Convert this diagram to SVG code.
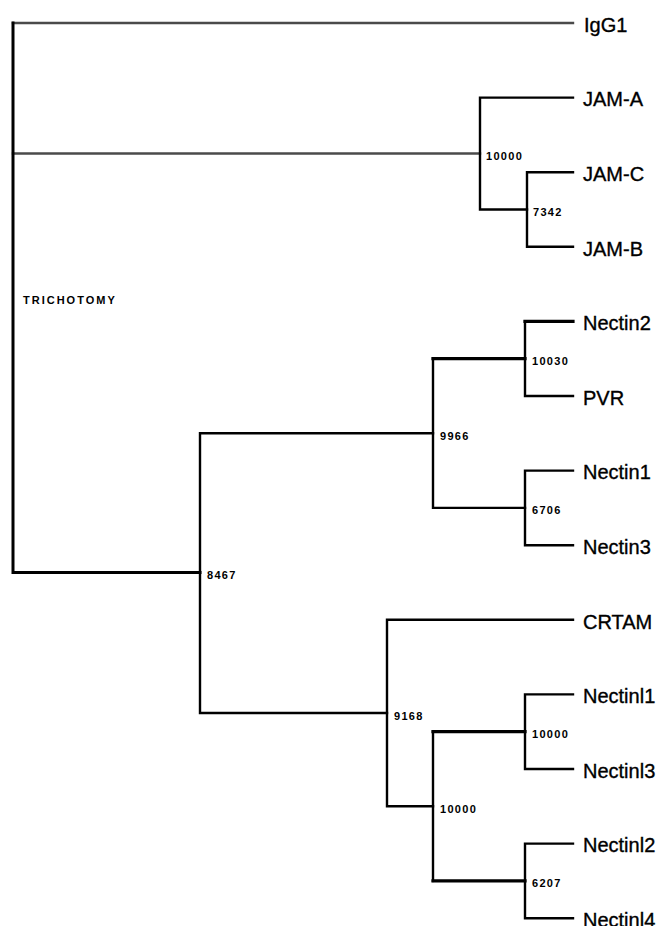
<svg xmlns="http://www.w3.org/2000/svg" width="664" height="926" viewBox="0 0 664 926">
<style>
.bg{fill:#ffffff}
.br{fill:none;stroke:#000;stroke-width:2.4;stroke-linecap:square;stroke-linejoin:miter}
.thk{stroke-width:3.2}
.gry{fill:none;stroke:#4a4a4a;stroke-width:2.4;stroke-linecap:square}
.leaf{font-family:"Liberation Sans",Arial,sans-serif;font-size:20px;fill:#000;stroke:#000;stroke-width:0.35}
.bs{font-family:"Liberation Sans",Arial,sans-serif;font-size:11px;font-weight:bold;letter-spacing:1.3px;fill:#000}
.tri{font-family:"Liberation Sans",Arial,sans-serif;font-size:11px;font-weight:bold;letter-spacing:2px;fill:#000}
</style>
<rect class="bg" x="0" y="0" width="664" height="926"/>
<g id="connectors">
  <path class="gry" d="M13,23 H573"/>
  <path class="gry" d="M13,153.5 H480"/>
  <path class="br" style="stroke-width:3" d="M13,23 V572.5 H200"/>
  <path class="br" d="M573,97.6 H480 V209.5 H527"/>
  <path class="br" d="M573,172.2 H527 V246.8 H573"/>
  <path class="br" d="M433,433.3 H200 V713 H387"/>
  <path class="br thk" d="M433,358.7 H525"/>
  <path class="br" d="M433,358.7 V507.9 H525"/>
  <path class="br" d="M573,396 H525 V321.4"/>
  <path class="br thk" d="M525,321.4 H573"/>
  <path class="br" d="M573,470.6 H525 V545.2 H573"/>
  <path class="br" d="M573,619.8 H387 V806.3 H433"/>
  <path class="br thk" d="M433,731.7 H525"/>
  <path class="br" d="M433,731.7 V880.9"/>
  <path class="br thk" d="M433,880.9 H525"/>
  <path class="br" d="M573,694.4 H525 V769 H573"/>
  <path class="br" d="M573,843.6 H525 V918.2 H573"/>
</g>
<g id="leaf-IgG1"><text class="leaf" x="584" y="31.5">IgG1</text></g>
<g id="leaf-JAM-A"><text class="leaf" x="583" y="106.3">JAM-A</text></g>
<g id="leaf-JAM-C"><text class="leaf" x="583" y="180.9">JAM-C</text></g>
<g id="leaf-JAM-B"><text class="leaf" x="583" y="255.5">JAM-B</text></g>
<g id="leaf-Nectin2"><text class="leaf" x="583" y="330.1">Nectin2</text></g>
<g id="leaf-PVR"><text class="leaf" x="583" y="404.7">PVR</text></g>
<g id="leaf-Nectin1"><text class="leaf" x="583" y="479.3">Nectin1</text></g>
<g id="leaf-Nectin3"><text class="leaf" x="583" y="553.9">Nectin3</text></g>
<g id="leaf-CRTAM"><text class="leaf" x="583" y="628.5">CRTAM</text></g>
<g id="leaf-Nectinl1"><text class="leaf" x="583" y="703.1">Nectinl1</text></g>
<g id="leaf-Nectinl3"><text class="leaf" x="583" y="777.7">Nectinl3</text></g>
<g id="leaf-Nectinl2"><text class="leaf" x="583" y="852.3">Nectinl2</text></g>
<g id="leaf-Nectinl4"><text class="leaf" x="583" y="926.9">Nectinl4</text></g>
<g id="root"><text class="tri" x="23" y="304">TRICHOTOMY</text></g>
<g id="node-jam"><text class="bs" x="486" y="159.5">10000</text></g>
<g id="node-jamcb"><text class="bs" x="533" y="215.5">7342</text></g>
<g id="node-8467"><text class="bs" x="207" y="578.5">8467</text></g>
<g id="node-9966"><text class="bs" x="440" y="439.5">9966</text></g>
<g id="node-n2pvr"><text class="bs" x="532" y="364.5">10030</text></g>
<g id="node-n13"><text class="bs" x="532" y="513.5">6706</text></g>
<g id="node-9168"><text class="bs" x="394" y="720">9168</text></g>
<g id="node-10000"><text class="bs" x="440" y="813">10000</text></g>
<g id="node-nl13"><text class="bs" x="532" y="738">10000</text></g>
<g id="node-nl24"><text class="bs" x="532" y="887">6207</text></g>
</svg>
